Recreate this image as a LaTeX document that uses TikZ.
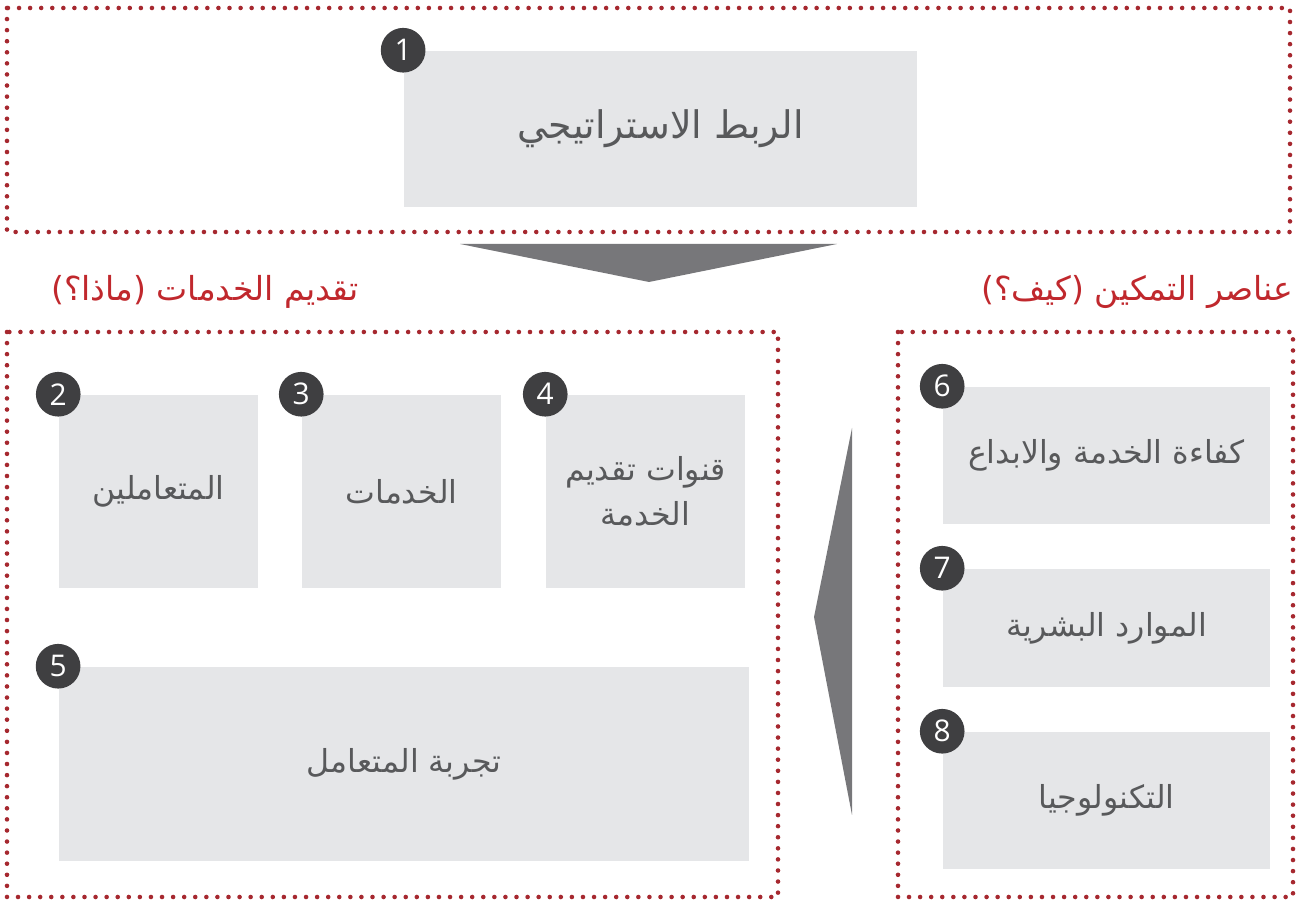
\documentclass[tikz,border=0pt]{standalone}
\usepackage{fontspec}
\TeXXeTstate=1
\newfontfamily\arabicfont[Script=Arabic]{DejaVu Sans}
\newfontfamily\numfont{Open Sans}
\definecolor{frame}{HTML}{A6282F}
\definecolor{title}{HTML}{C0282D}
\definecolor{cellfill}{HTML}{E5E6E8}
\definecolor{celltext}{HTML}{58595B}
\definecolor{badge}{HTML}{3F3F41}
\definecolor{arrowgrey}{HTML}{77777A}
\tikzset{
  frameline/.style={draw=frame, line width=1.3pt, line cap=round, dash pattern=on 0pt off 3.15pt},
  cell/.style={fill=cellfill, text=celltext, inner sep=0pt, align=center, font=\arabicfont\fontsize{9}{13}\selectfont},
  badgenode/.style={circle, fill=badge, text=white, minimum size=1.24cm*0.36, inner sep=0pt, font=\numfont\fontsize{8.5}{9}\selectfont},
  heading/.style={text=title, inner sep=0pt, font=\arabicfont\fontsize{9.4}{11}\selectfont}
}
\begin{document}
\begin{tikzpicture}[x=0.01cm, y=-0.01cm]
\useasboundingbox (0,0) rectangle (1309,901);

% dotted frames
\draw [frameline] (7,8) rectangle (1290,232);
\draw [frameline] (7,332) rectangle (778,897);
\draw [frameline] (898,332) rectangle (1293,897);

% top block
\node [cell, minimum width=5.13cm, minimum height=1.56cm, font=\arabicfont\fontsize{10.8}{13}\selectfont] (v1) at (660.5,129) {\beginR الربط الاستراتيجي\endR};
\node [badgenode] (b1) at (v1.north west) {1};

\fill [arrowgrey] (460,244) -- (837,244) -- (649,282) -- cycle;

% headings
\node [heading] (t1) at (205,292) {\beginR تقديم الخدمات (ماذا؟)\endR};
\node [heading, anchor=east] (t2) at (1294,292) {\beginR عناصر التمكين (كيف؟)\endR};

% what
\node [cell, minimum width=1.99cm, minimum height=1.93cm] (v2) at (158.5,491.5) {\beginR المتعاملين\endR};
\node [cell, minimum width=1.99cm, minimum height=1.93cm] (v3) at (401.5,491.5) {\beginR الخدمات\endR};
\node [cell, minimum width=1.99cm, minimum height=1.93cm] (v4) at (645.5,491.5) {\beginR قنوات تقديم\endR\\\beginR الخدمة\endR};
\node [cell, minimum width=6.9cm, minimum height=1.94cm] (v5) at (404,764) {\beginR تجربة المتعامل\endR};
\node [badgenode] (b2) at (v2.north west) {2};
\node [badgenode] (b3) at (v3.north west) {3};
\node [badgenode] (b4) at (v4.north west) {4};
\node [badgenode] (b5) at (v5.north west) {5};

\fill [arrowgrey] (852,428) -- (852,815) -- (814,617) -- cycle;

% how
\node [cell, minimum width=3.27cm, minimum height=1.37cm] (v6) at (1106.5,455.5) {\beginR كفاءة الخدمة والابداع\endR};
\node [cell, minimum width=3.27cm, minimum height=1.18cm] (v7) at (1106.5,628) {\beginR الموارد البشرية\endR};
\node [cell, minimum width=3.27cm, minimum height=1.37cm] (v8) at (1106.5,800.5) {\beginR التكنولوجيا\endR};
\node [badgenode] (b6) at (v6.north west) {6};
\node [badgenode] (b7) at (v7.north west) {7};
\node [badgenode] (b8) at (v8.north west) {8};
\end{tikzpicture}
\end{document}
